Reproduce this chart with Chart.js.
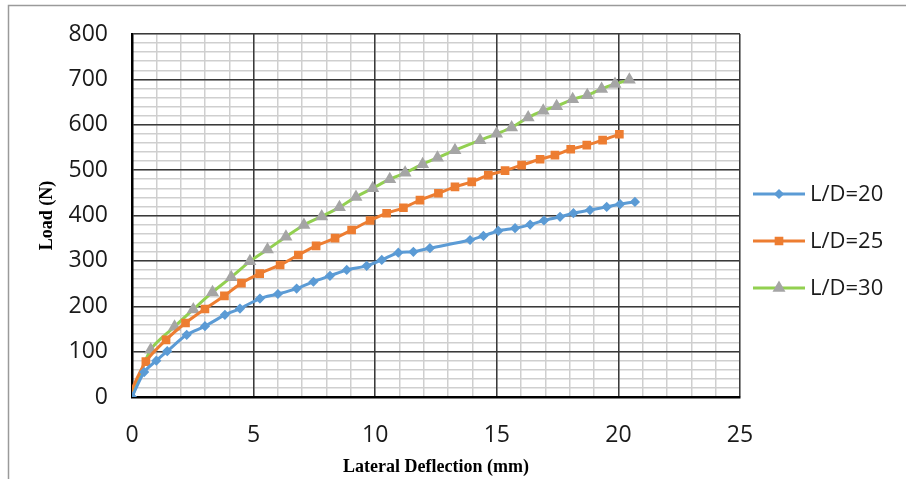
<!DOCTYPE html>
<html>
<head>
<meta charset="utf-8">
<script src="https://cdn.jsdelivr.net/npm/chart.js@4.4.0/dist/chart.umd.min.js"></script>
<style>
html,body{margin:0;padding:0;background:#fff;}
#wrap{position:relative;width:906px;height:479px;}
</style>
</head>
<body>
<div id="wrap"><canvas id="c" width="906" height="479"></canvas></div>
<script>
// ---- data ----
const seriesNames = ["L/D=20", "L/D=25", "L/D=30"];
const xTickLabels = [0, 5, 10, 15, 20, 25];
const yTickLabels = [0, 100, 200, 300, 400, 500, 600, 700, 800];

const ld20x = [0, 0.5, 1.0, 1.45, 2.25, 3.0, 3.82, 4.44, 5.26, 6.0, 6.77, 7.46, 8.14, 8.83, 9.65, 10.27, 10.95, 11.57, 12.25, 13.9, 14.45, 15.06, 15.75, 16.37, 16.94, 17.6, 18.15, 18.83, 19.52, 20.07, 20.68];
const ld20y = [0, 55, 80, 101, 137, 156, 181, 195, 217, 227, 239, 254, 267, 280, 289, 302, 318, 320, 328, 346, 355, 366, 372, 380, 389, 397, 405, 412, 419, 425, 430];

const ld25x = [-0.15, 0.57, 1.4, 2.2, 3.0, 3.8, 4.5, 5.25, 6.09, 6.84, 7.57, 8.35, 9.03, 9.79, 10.47, 11.16, 11.84, 12.6, 13.28, 13.97, 14.65, 15.34, 16.02, 16.78, 17.39, 18.04, 18.7, 19.35, 20.04];
const ld25y = [0, 78, 126, 163, 194, 223, 251, 272, 291, 313, 333, 350, 368, 389, 405, 417, 434, 449, 463, 474, 489, 499, 511, 524, 533, 546, 555, 566, 579];

const ld30x = [0, 0.77, 1.75, 2.52, 3.31, 4.08, 4.85, 5.57, 6.33, 7.07, 7.8, 8.53, 9.21, 9.9, 10.6, 11.23, 11.95, 12.56, 13.28, 14.31, 14.99, 15.61, 16.29, 16.91, 17.46, 18.12, 18.72, 19.31, 19.86, 20.45];
const ld30y = [0, 104, 155, 193, 231, 264, 299, 325, 353, 379, 398, 418, 441, 460, 480, 494, 513, 527, 544, 566, 580, 594, 616, 631, 641, 656, 665, 679, 690, 699];

const pts = (xs, ys) => xs.map((x, i) => ({x: x, y: ys[i]}));

const TICK_FONT = {family: "'Open Sans', sans-serif", size: 23};
const TITLE_FONT = {family: "'Liberation Serif', serif", size: 18, weight: 'bold'};
const MAJOR = '#3a3a3a', MINOR = '#cfcfcf';

// custom legend (line + marker like the reference)
const legendPlugin = {
  id: 'sideLegend',
  afterDraw(chart) {
    const ctx = chart.ctx;
    chart.data.datasets.forEach((ds, i) => {
      const y = 194 + 47 * i;
      ctx.save();
      ctx.strokeStyle = ds.borderColor;
      ctx.lineWidth = 3;
      ctx.beginPath(); ctx.moveTo(753, y); ctx.lineTo(805, y); ctx.stroke();
      ctx.fillStyle = ds.pointBackgroundColor;
      ctx.strokeStyle = ds.pointBorderColor;
      Chart.helpers.drawPoint(ctx, {pointStyle: ds.pointStyle, radius: ds.pointRadius, borderWidth: 0.5, rotation: 0}, 779, y);
      ctx.fillStyle = '#1a1a1a';
      ctx.font = "22px 'Open Sans', sans-serif";
      ctx.textBaseline = 'middle';
      ctx.textAlign = 'left';
      ctx.fillText(seriesNames[i], 810, y + 1);
      ctx.restore();
    });
    // outer frame
    ctx.save();
    ctx.strokeStyle = '#9a9a9a';
    ctx.lineWidth = 1.5;
    ctx.beginPath(); ctx.moveTo(8.5, 479); ctx.lineTo(8.5, 5.5); ctx.lineTo(906, 5.5); ctx.stroke();
    ctx.restore();
  }
};

new Chart(document.getElementById('c'), {
  type: 'line',
  data: {
    datasets: [
      {label: seriesNames[0], data: pts(ld20x, ld20y), borderColor: '#5B9BD5', backgroundColor: '#5B9BD5',
       pointStyle: 'rectRot', pointRadius: 3, pointBackgroundColor: '#5B9BD5', pointBorderColor: '#5B9BD5', borderWidth: 3, tension: 0.3},
      {label: seriesNames[1], data: pts(ld25x, ld25y), borderColor: '#ED7D31', backgroundColor: '#ED7D31',
       pointStyle: 'rect', pointRadius: 4, pointBackgroundColor: '#ED7D31', pointBorderColor: '#ED7D31', borderWidth: 3, tension: 0.3},
      {label: seriesNames[2], data: pts(ld30x, ld30y), borderColor: '#92D050', backgroundColor: '#92D050',
       pointStyle: 'triangle', pointRadius: 4.5, pointBackgroundColor: '#A5A5A5', pointBorderColor: '#A5A5A5', borderWidth: 3, tension: 0.3}
    ]
  },
  options: {
    responsive: false,
    animation: false,
    layout: {padding: {left: 0, top: 34, right: 166, bottom: 0}},
    plugins: {legend: {display: false}, tooltip: {enabled: false}},
    elements: {point: {borderWidth: 0.5}},
    scales: {
      xMinor: {type: 'linear', position: 'bottom', min: 0, max: 25, z: -1,
        ticks: {display: false, stepSize: 1}, border: {display: false},
        grid: {color: MINOR, lineWidth: 1.5, drawTicks: false},
        afterFit: s => { s.height = 0; s.paddingLeft = 0; s.paddingRight = 0; }},
      yMinor: {type: 'linear', position: 'left', min: 0, max: 800, z: -1,
        ticks: {display: false, stepSize: 20}, border: {display: false},
        grid: {color: MINOR, lineWidth: 1.5, drawTicks: false},
        afterFit: s => { s.width = 0; s.paddingTop = 0; s.paddingBottom = 0; }},
      x: {type: 'linear', position: 'bottom', min: 0, max: 25,
        afterBuildTicks: s => { s.ticks = xTickLabels.map(v => ({value: v})); },
        ticks: {font: TICK_FONT, color: '#1a1a1a', padding: 25, autoSkip: false, maxRotation: 0},
        grid: {color: MAJOR, lineWidth: 1.5, drawTicks: false},
        border: {color: '#000', width: 2.5},
        title: {display: true, text: 'Lateral Deflection (mm)', font: TITLE_FONT, color: '#000', padding: {top: 0, bottom: 1}},
        afterFit: s => { s.height = 82; s.paddingLeft = 0; s.paddingRight = 0; }},
      y: {type: 'linear', position: 'left', min: 0, max: 800,
        afterBuildTicks: s => { s.ticks = yTickLabels.map(v => ({value: v})); },
        ticks: {font: TICK_FONT, color: '#1a1a1a', padding: 24, autoSkip: false},
        grid: {color: MAJOR, lineWidth: 1.5, drawTicks: false},
        border: {color: '#000', width: 2.5},
        title: {display: true, text: 'Load (N)', font: TITLE_FONT, color: '#000', padding: {top: 37, bottom: 0}},
        afterFit: s => { s.width = 132; s.paddingTop = 0; s.paddingBottom = 0; }}
    }
  },
  plugins: [legendPlugin]
});
</script>
</body>
</html>
